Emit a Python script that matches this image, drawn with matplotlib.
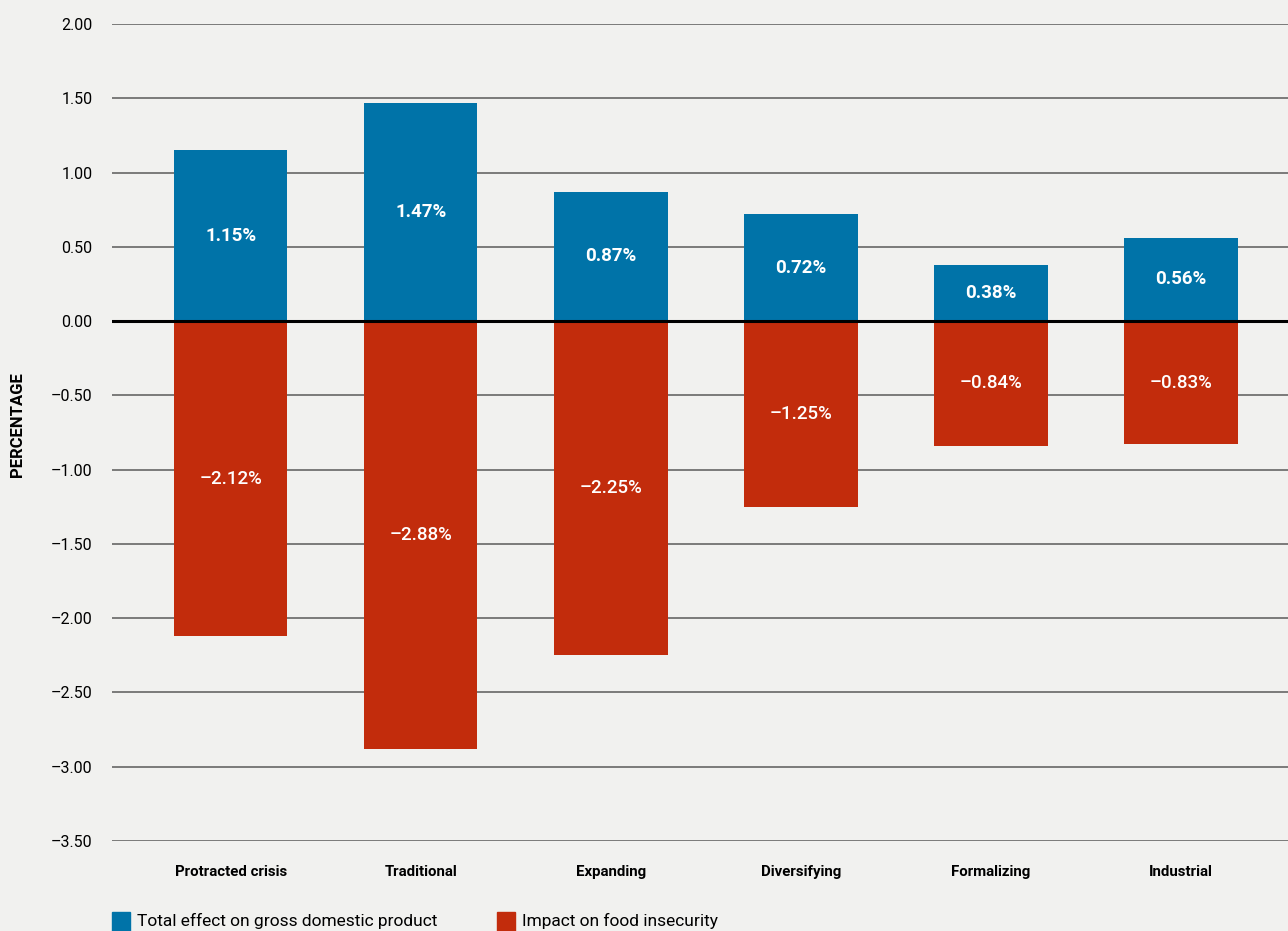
import numpy as np
import matplotlib
matplotlib.use("Agg")
import matplotlib.pyplot as plt
from matplotlib.patches import Rectangle

categories = ['Protracted crisis', 'Traditional', 'Expanding', 'Diversifying', 'Formalizing', 'Industrial']
gdp = [1.15, 1.47, 0.87, 0.72, 0.38, 0.56]
food = [-2.12, -2.88, -2.25, -1.25, -0.84, -0.83]
yticks = [2.0, 1.5, 1.0, 0.5, 0.0, -0.5, -1.0, -1.5, -2.0, -2.5, -3.0, -3.5]
legend_labels = ['Total effect on gross domestic product', 'Impact on food insecurity']

blue = '#0073a8'
red = '#c22c0c'
bg = '#f1f1ef'

plt.rcParams['font.family'] = ['Roboto', 'DejaVu Sans']

fig = plt.figure(figsize=(12.88, 9.31), dpi=100, facecolor=bg)
ax = fig.add_axes([112/1288, 1-841/931, 1-112/1288, (841-24)/931])
ax.set_facecolor(bg)

x = np.arange(len(categories))
w = 0.595
ax.bar(x, gdp, width=w, color=blue, zorder=3)
ax.bar(x, food, width=w, color=red, zorder=3)

def fmt(v):
    return f"{v:.2f}".replace('-', '\u2013')

for i in range(len(categories)):
    ax.text(x[i], gdp[i]/2, fmt(gdp[i]) + '%', ha='center', va='center',
            color='white', fontsize=13.5, fontweight='bold', zorder=4)
    ax.text(x[i], food[i]/2, fmt(food[i]) + '%', ha='center', va='center',
            color='white', fontsize=13.5, fontweight='medium', zorder=4)

for t in yticks:
    if t == 0:
        ax.axhline(t, color='black', lw=2.2, zorder=5)
    else:
        ax.axhline(t, color='#5a5a5a', lw=1.1, zorder=1)

ax.set_ylim(-3.5, 2.0)
ax.set_xlim(-0.626, 5.563)
ax.set_yticks(yticks)
ax.set_yticklabels([fmt(t) for t in yticks], fontsize=11.5)
ax.tick_params(axis='y', length=0, pad=14)
ax.set_xticks(x)
ax.set_xticklabels(categories, fontsize=10.8, fontweight='bold')
ax.tick_params(axis='x', length=0, pad=17)
for s in ax.spines.values():
    s.set_visible(False)

fig.text(18/1288, 1-425/931, 'PERCENTAGE', rotation=90, ha='center', va='center',
         fontsize=12, fontweight='bold')

# legend along the bottom edge
fig.add_artist(Rectangle((112/1288, 0), 18/1288, 19/931, transform=fig.transFigure, color=blue))
fig.text(137/1288, 1-921/931, legend_labels[0], fontsize=12.5, va='center')
fig.add_artist(Rectangle((497/1288, 0), 18/1288, 19/931, transform=fig.transFigure, color=red))
fig.text(522/1288, 1-921/931, legend_labels[1], fontsize=12.5, va='center')

fig.savefig('out.png', dpi=100, facecolor=bg)
